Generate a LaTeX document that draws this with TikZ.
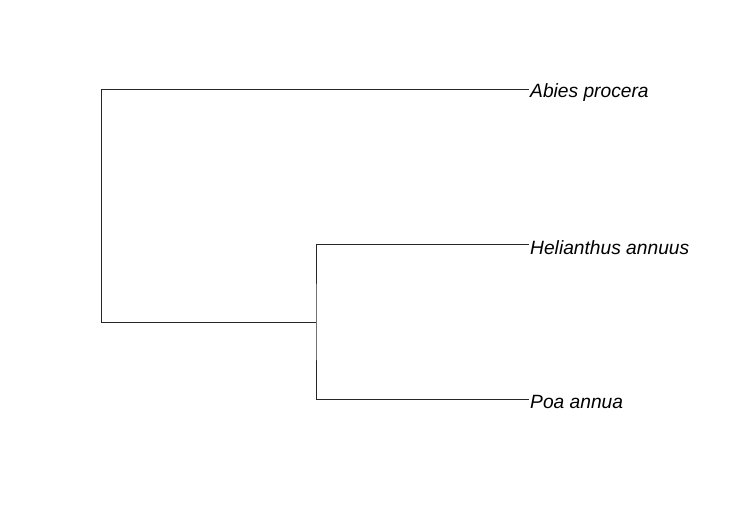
\documentclass[tikz,border=0pt]{standalone}
\usepackage{fontspec}
\setmainfont{Liberation Sans}
\usetikzlibrary{positioning}
\tikzstyle{leaf} = [anchor=west, inner sep=0pt, font=\fontsize{19.2}{23}\selectfont\itshape]
\tikzstyle{branch} = [line width=1pt, draw=black!85]

\begin{document}
\begin{tikzpicture}[x=1pt, y=-1pt]
        \useasboundingbox (0,0) rectangle (738,510);
        \coordinate (root) at (101,322);
        \coordinate (inner) at (316,322);
        \node (abies) [leaf] at (530,93) {Abies procera};
        \node (helianthus) [leaf] at (530,248) {Helianthus annuus};
        \node (poa) [leaf] at (530,402) {Poa annua};
        \draw [branch] ([xshift=-1pt]abies.west |- 0,90) -| (root) -- (inner);
        \draw [branch] ([xshift=-1pt]helianthus.west |- 0,245) -| (inner) |- ([xshift=-1pt]poa.west |- 0,399);
    \end{tikzpicture}
\end{document}
